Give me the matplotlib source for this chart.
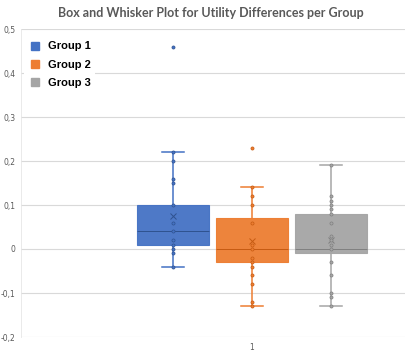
import matplotlib.pyplot as plt
from matplotlib.lines import Line2D

# --- data ---
groups = ['Group 1', 'Group 2', 'Group 3']
colors = ['#4472C4', '#ED7D31', '#A5A5A5']
dark = ['#2F528F', '#C55A11', '#7F7F7F']

q1 = [0.01, -0.03, -0.01]
med = [0.04, 0.00, 0.00]
q3 = [0.10, 0.07, 0.08]
whislo = [-0.04, -0.13, -0.13]
whishi = [0.22, 0.14, 0.19]
means = [0.074, 0.018, 0.02]

points = [
    [0.46, 0.22, 0.20, 0.16, 0.15, 0.10, 0.06, 0.04, 0.02, 0.01, 0.0, -0.01, -0.04],
    [0.23, 0.14, 0.12, 0.10, 0.06, 0.01, 0.0, -0.02, -0.03, -0.04, -0.06, -0.08, -0.12, -0.13],
    [0.19, 0.12, 0.11, 0.10, 0.09, 0.08, 0.06, 0.03, 0.02, 0.01, 0.0, -0.03, -0.06, -0.10, -0.11, -0.13],
]

yticks = [-0.2, -0.1, 0, 0.1, 0.2, 0.3, 0.4, 0.5]
ytick_labels = ['-0,2', '-0,1', '0', '0,1', '0,2', '0,3', '0,4', '0,5']
category = '1'

fig = plt.figure(figsize=(4.06, 3.54), dpi=100)
ax = fig.add_axes([21 / 406, 1 - 337 / 354, 385 / 406, 308 / 354])

positions = [1, 2, 3]
for i in range(3):
    stats = [dict(q1=q1[i], med=med[i], q3=q3[i], whislo=whislo[i], whishi=whishi[i],
                  mean=means[i], fliers=[])]
    ax.bxp(stats, positions=[positions[i]], widths=0.9, patch_artist=True,
           showmeans=True, showfliers=False,
           boxprops=dict(facecolor=colors[i], edgecolor=colors[i], linewidth=0.8, alpha=0.95),
           medianprops=dict(color=dark[i], linewidth=0.7),
           whiskerprops=dict(color=colors[i], linewidth=1.1),
           capprops=dict(color=colors[i], linewidth=1.1),
           capwidths=0.28,
           meanprops=dict(marker='x', markeredgecolor=dark[i], markersize=4, markeredgewidth=0.7))
    ax.scatter([positions[i]] * len(points[i]), points[i], s=5, facecolor=colors[i],
               edgecolor=dark[i], linewidth=0.5, zorder=4)

ax.set_xlim(-0.924, 3.949)
ax.set_ylim(-0.2, 0.5)
ax.set_xticks([2])
ax.set_xticklabels([category])
ax.set_yticks(yticks)
ax.set_yticklabels(ytick_labels)
ax.tick_params(length=0, labelsize=5.5, colors='#595959', pad=4)
ax.grid(axis='y', color='#D9D9D9', linewidth=0.8)
ax.set_axisbelow(True)
for side in ['top', 'right', 'bottom']:
    ax.spines[side].set_visible(False)
ax.spines['left'].set_color('#E6E6E6')
ax.spines['left'].set_linewidth(0.6)

handles = [Line2D([], [], marker='s', linestyle='none', markersize=5.5,
                  markerfacecolor=c, markeredgecolor=c) for c in colors]
leg = ax.legend(handles, groups, loc='upper left', bbox_to_anchor=(0.0, 0.985),
                frameon=True, framealpha=1, edgecolor='none', facecolor='white',
                prop=dict(weight='bold', size=8, family='Liberation Sans'),
                labelspacing=0.75, handlelength=1.2, handletextpad=0.5, borderaxespad=0.3)
leg.get_frame().set_linewidth(0)

fig.text(0.52, 0.963, 'Box and Whisker Plot for Utility Differences per Group',
         ha='center', va='center', fontsize=9, fontweight='bold', color='#595959',
         family='Lato')

fig.savefig('out.png', dpi=100)
